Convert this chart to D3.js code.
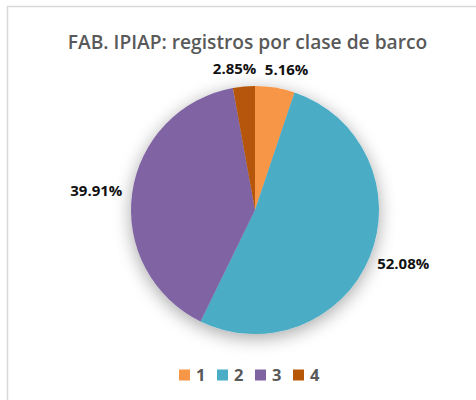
<!DOCTYPE html>
<html><head><meta charset="utf-8">
<script src="https://cdn.jsdelivr.net/npm/d3@7"></script>
<style>html,body{margin:0;padding:0;background:#fff;}svg{display:block;}</style>
</head><body>
<script>
const categories = ["1", "2", "3", "4"];
const values = [5.16, 52.08, 39.91, 2.85];
const labels = ["5.16%", "52.08%", "39.91%", "2.85%"];
const colors = ["#F79646", "#4BACC6", "#8064A2", "#B65708"];
const title = "FAB. IPIAP: registros por clase de barco";

const W = 476, H = 400;
const svg = d3.select("body").append("svg").attr("width", W).attr("height", H);

svg.append("rect").attr("x", 7.5).attr("y", 6.5).attr("width", 600).attr("height", 600)
  .attr("fill", "#fff").attr("stroke", "#d9d9d9").attr("stroke-width", 1.5);

const defs = svg.append("defs");
const f = defs.append("filter").attr("id", "sh").attr("x", "-30%").attr("y", "-30%").attr("width", "160%").attr("height", "160%");
f.append("feGaussianBlur").attr("in", "SourceAlpha").attr("stdDeviation", 9).attr("result", "b");
f.append("feOffset").attr("in", "b").attr("dy", 4).attr("result", "o");
f.append("feComponentTransfer").attr("in", "o").attr("result", "o2")
  .append("feFuncA").attr("type", "linear").attr("slope", 0.35);
const m = f.append("feMerge");
m.append("feMergeNode").attr("in", "o2");
m.append("feMergeNode").attr("in", "SourceGraphic");

svg.append("text").attr("x", 247.5).attr("y", 49).attr("text-anchor", "middle")
  .attr("font-family", "Open Sans, sans-serif").attr("font-weight", 600).attr("font-size", 19.2)
  .attr("fill", "#595959").text(title);

const cx = 255, cy = 210, r = 124;
const pie = d3.pie().sort(null).value(d => d)(values);
const arc = d3.arc().innerRadius(0).outerRadius(r);
const g = svg.append("g").attr("transform", `translate(${cx},${cy})`);
g.append("g").attr("filter", "url(#sh)").selectAll("path").data(pie).join("path")
  .attr("d", arc).attr("fill", (d, i) => colors[i]);

// labels (outside end)
const fs = 15, lh = 14;
const lab = pie.map((d, i) => {
  const a = (d.startAngle + d.endAngle) / 2;
  const w = labels[i].length * 8.4;
  const s = Math.sin(a), c = -Math.cos(a);
  const rr = r + 11;
  return { i, x: rr * s + w / 2 * s, y: rr * c + lh / 2 * c, w };
});
for (let k = 0; k < 3; k++) {
  for (let a = 0; a < lab.length; a++) for (let b = 0; b < lab.length; b++) {
    if (a === b) continue;
    const A = lab[a], B = lab[b];
    if (Math.abs(A.y - B.y) < lh && A.x <= B.x) {
      const gap = (B.x - B.w / 2) - (A.x + A.w / 2);
      if (gap < 10) { const sh = (10 - gap) / 2; A.x -= sh; B.x += sh; }
    }
  }
}
g.selectAll("text.lbl").data(lab).join("text").attr("class", "lbl")
  .attr("x", d => d.x).attr("y", d => d.y).attr("dy", "0.35em").attr("text-anchor", "middle")
  .attr("font-family", "Open Sans, sans-serif").attr("font-weight", 700).attr("font-size", fs)
  .attr("fill", "#111").text(d => labels[d.i]);

// legend
const lx = d3.scalePoint().domain(categories).range([179, 293]);
const lg = svg.append("g").selectAll("g").data(categories).join("g")
  .attr("transform", d => `translate(${lx(d)},375)`);
lg.append("rect").attr("x", 0).attr("y", -5.5).attr("width", 11).attr("height", 11)
  .attr("fill", (d, i) => colors[i]);
lg.append("text").attr("x", 17).attr("dy", "0.36em")
  .attr("font-family", "Open Sans, sans-serif").attr("font-weight", 700).attr("font-size", 16.5)
  .attr("fill", "#595959").text(d => d);
</script>
</body></html>
